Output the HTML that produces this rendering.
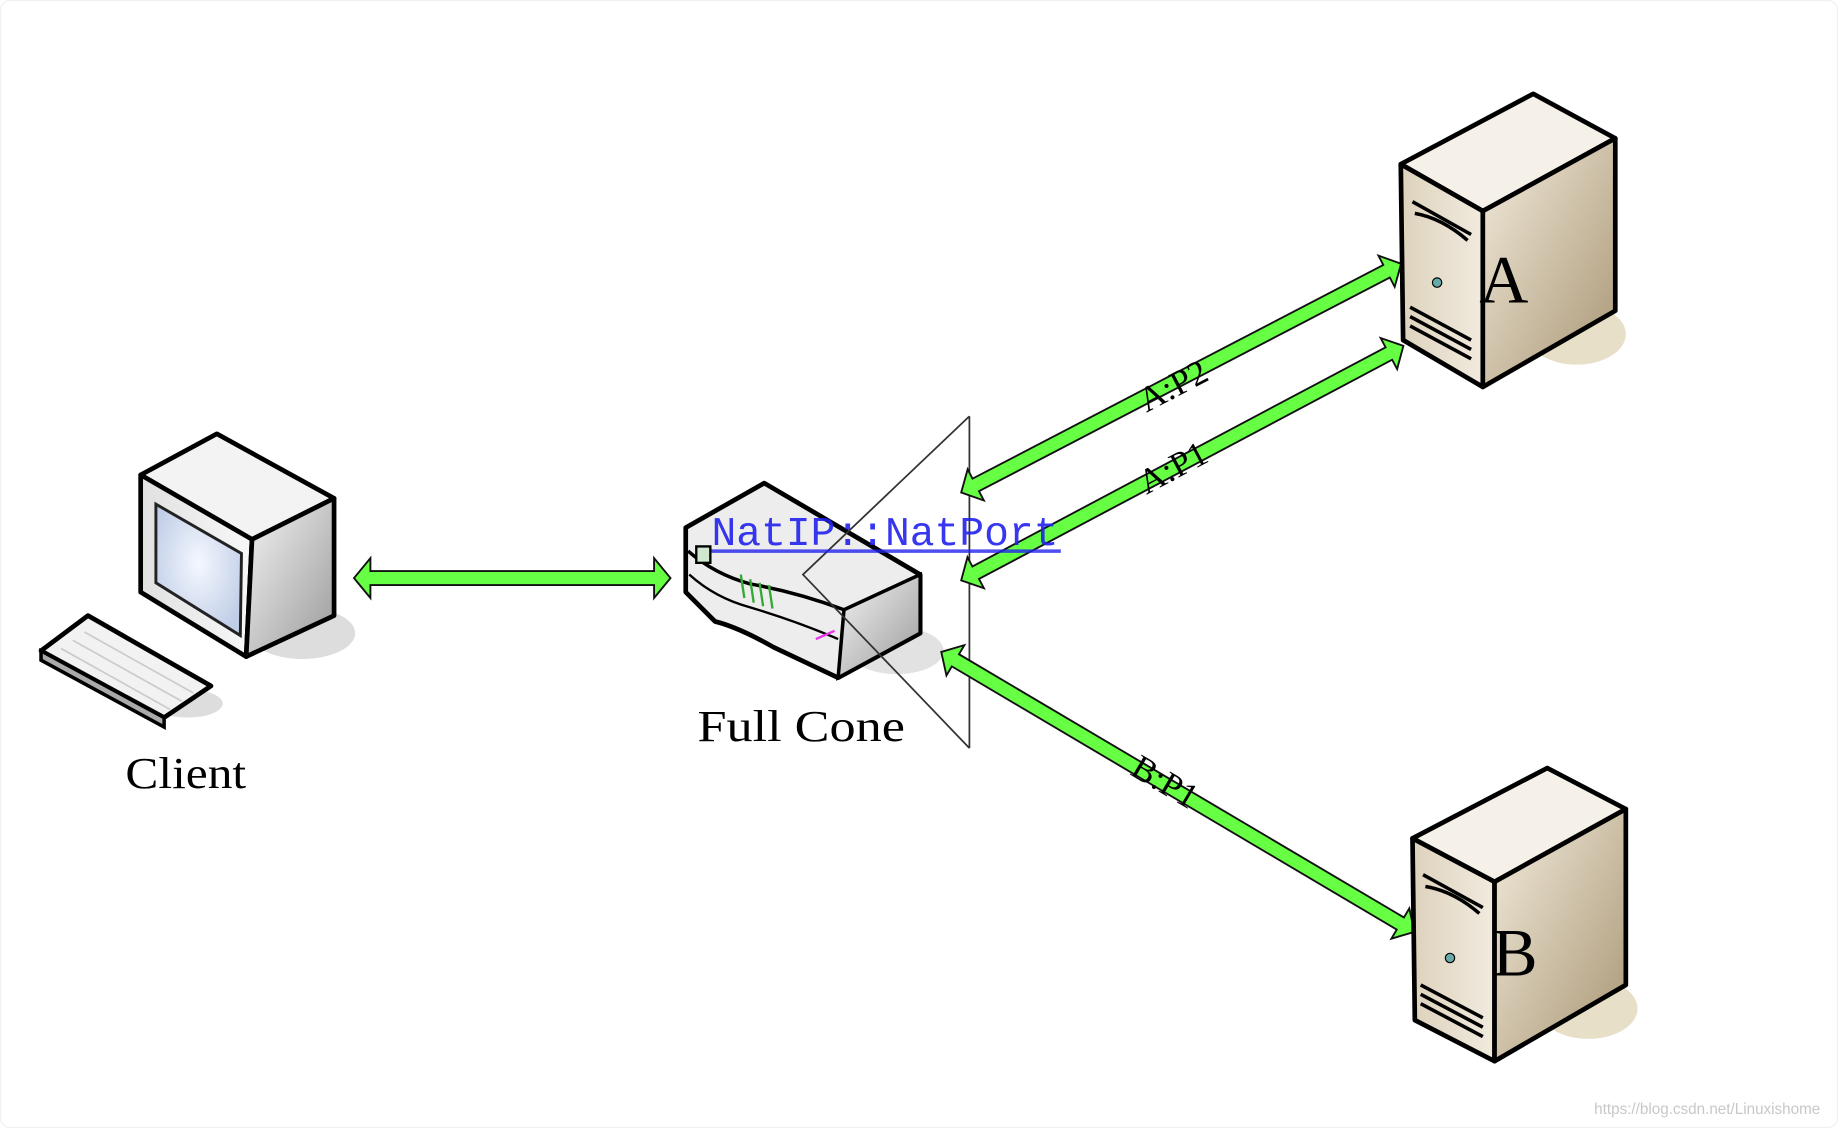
<!DOCTYPE html>
<html><head><meta charset="utf-8"><style>
html,body{margin:0;padding:0;background:#fff;width:1838px;height:1128px;overflow:hidden}
svg{display:block}
</style></head><body>
<svg width="1838" height="1128" viewBox="0 0 1568 962" preserveAspectRatio="none" xmlns="http://www.w3.org/2000/svg">
<defs>
<linearGradient id="gr" x1="0" y1="0" x2="1" y2="1"><stop offset="0" stop-color="#f4f4f4"/><stop offset="1" stop-color="#9a9a9a"/></linearGradient>
<linearGradient id="gl" x1="0" y1="0" x2="1" y2="0"><stop offset="0" stop-color="#e0e0e0"/><stop offset="1" stop-color="#f8f8f8"/></linearGradient>
<radialGradient id="scr" cx="0.5" cy="0.45" r="0.6"><stop offset="0" stop-color="#f4f8ff"/><stop offset="1" stop-color="#c0cde6"/></radialGradient>
<linearGradient id="sr" x1="0" y1="0" x2="1" y2="1"><stop offset="0" stop-color="#f3ecdc"/><stop offset="1" stop-color="#a89574"/></linearGradient>
<linearGradient id="sl" x1="0" y1="0" x2="1" y2="0"><stop offset="0" stop-color="#ddd2bc"/><stop offset="1" stop-color="#f1ebdf"/></linearGradient>
</defs>
<rect x="0.5" y="0.5" width="1567" height="961" fill="none" stroke="#f0f0f0" rx="8"/>

<!-- Client -->
<ellipse cx="258" cy="540" rx="45" ry="22" fill="#ddd"/>
<polygon points="120,405 185,370 285,425 215,460" fill="#f3f3f3" stroke="#000" stroke-width="4" stroke-linejoin="round"/>
<polygon points="120,405 215,460 210,560 120,505" fill="url(#gl)" stroke="#000" stroke-width="4" stroke-linejoin="round"/>
<polygon points="133,430 206,472 205,542 133,497" fill="url(#scr)" stroke="#222" stroke-width="2.5"/>
<polygon points="215,460 285,425 285,525 210,560" fill="url(#gr)" stroke="#000" stroke-width="4" stroke-linejoin="round"/>
<ellipse cx="160" cy="600" rx="30" ry="12" fill="#ddd"/>
<polygon points="35,555 75,525 180,585 140,612" fill="#f2f2f2" stroke="#000" stroke-width="4" stroke-linejoin="round"/>
<polygon points="35,555 140,612 140,620 35,563" fill="#aaa" stroke="#000" stroke-width="3"/>
<g stroke="#ccc" stroke-width="1.5"><line x1="52" y1="553" x2="145" y2="605"/><line x1="62" y1="546" x2="155" y2="598"/><line x1="72" y1="539" x2="165" y2="591"/></g>
<text x="107" y="672" font-family="Liberation Serif, serif" font-size="38" textLength="103" lengthAdjust="spacingAndGlyphs">Client</text>

<!-- router -->
<ellipse cx="765" cy="555" rx="40" ry="20" fill="#e2e2e2"/>
<path d="M585,450 L652,412 L785,490 L785,540 L715,578 L660,552 Q630,535 610,530 L585,505 Z" fill="#ededed" stroke="#000" stroke-width="4" stroke-linejoin="round"/>
<polygon points="720,520 785,490 785,540 715,578" fill="url(#gr)" stroke="#000" stroke-width="3"/>
<path d="M587,470 Q610,490 640,498 Q680,505 720,520" fill="none" stroke="#000" stroke-width="3"/>
<path d="M588,490 Q610,510 640,518 Q680,530 715,545" fill="none" stroke="#000" stroke-width="2"/>
<rect x="594" y="466" width="12" height="14" fill="#cfe8cf" stroke="#000" stroke-width="2"/>
<g stroke="#3a3" stroke-width="2"><line x1="632" y1="490" x2="635" y2="510"/><line x1="640" y1="494" x2="643" y2="514"/><line x1="648" y1="497" x2="651" y2="517"/><line x1="656" y1="499" x2="659" y2="519"/></g>
<line x1="696" y1="545" x2="712" y2="538" stroke="#e3e" stroke-width="2"/>
<!-- cone -->
<polyline points="827,355 685,490 827,638" fill="none" stroke="#333" stroke-width="1.5"/>
<line x1="827" y1="355" x2="827" y2="638" stroke="#333" stroke-width="1.5"/>
<text x="595" y="632" font-family="Liberation Serif, serif" font-size="38" textLength="177" lengthAdjust="spacingAndGlyphs">Full  Cone</text>

<!-- arrows -->
<g fill="#66ff44" stroke="#111" stroke-width="1.6" stroke-linejoin="miter">
<polygon transform="translate(302,493)" points="0,0 14,-17 14,-6 256,-6 256,-17 270,0 256,17 256,6 14,6 14,17"/>
<polygon transform="translate(820,420) rotate(-27.47)" points="0,0 14,-15 14,-6 409,-6 409,-15 423,0 409,15 409,6 14,6 14,15"/>
<polygon transform="translate(820,495) rotate(-27.94)" points="0,0 14,-15 14,-6 413,-6 413,-15 427,0 413,15 413,6 14,6 14,15"/>
<polygon transform="translate(803,556) rotate(30.6)" points="0,0 14,-15 14,-6 455,-6 455,-15 469,0 455,15 455,6 14,6 14,15"/>
</g>
<g font-family="Liberation Serif, serif" font-size="30" fill="#000">
<text transform="translate(978,352) rotate(-27.5)">A:P2</text>
<text transform="translate(978,422) rotate(-28)">A:P1</text>
<text transform="translate(963,660) rotate(30.6)">B:P1</text>
</g>
<text x="607" y="465" font-family="Liberation Mono, monospace" font-size="35" fill="#2222ee" textLength="296" lengthAdjust="spacingAndGlyphs" opacity="0.9">NatIP::NatPort</text>
<line x1="607" y1="470" x2="905" y2="470" stroke="#2222ee" stroke-width="3" opacity="0.8"/>

<!-- Server A -->
<ellipse cx="1345" cy="285" rx="42" ry="26" fill="#e8dfc8"/>
<polygon points="1195,140 1308,80 1378,118 1265,180" fill="#f5f1e8" stroke="#000" stroke-width="4" stroke-linejoin="round"/>
<polygon points="1195,140 1265,180 1265,330 1197,290" fill="url(#sl)" stroke="#000" stroke-width="4" stroke-linejoin="round"/>
<polygon points="1265,180 1378,118 1378,265 1265,330" fill="url(#sr)" stroke="#000" stroke-width="4" stroke-linejoin="round"/>
<g stroke="#000" stroke-width="3" fill="none"><path d="M1205,172 L1255,200"/><path d="M1207,182 Q1230,186 1252,205"/><path d="M1203,262 L1255,290"/><path d="M1203,270 L1255,298"/><path d="M1203,278 L1255,306"/></g>
<circle cx="1226" cy="241" r="4" fill="#6aa" stroke="#000"/>
<text x="1262" y="258" font-family="Liberation Serif, serif" font-size="58">A</text>

<!-- Server B -->
<ellipse cx="1355" cy="860" rx="42" ry="26" fill="#e8dfc8"/>
<polygon points="1205,715 1320,655 1387,690 1275,752" fill="#f5f1e8" stroke="#000" stroke-width="4" stroke-linejoin="round"/>
<polygon points="1205,715 1275,752 1275,905 1207,870" fill="url(#sl)" stroke="#000" stroke-width="4" stroke-linejoin="round"/>
<polygon points="1275,752 1387,690 1387,840 1275,905" fill="url(#sr)" stroke="#000" stroke-width="4" stroke-linejoin="round"/>
<g stroke="#000" stroke-width="3" fill="none"><path d="M1214,746 L1265,774"/><path d="M1216,756 Q1240,760 1262,779"/><path d="M1212,840 L1265,868"/><path d="M1212,848 L1265,876"/><path d="M1212,856 L1265,884"/></g>
<circle cx="1237" cy="817" r="4" fill="#6aa" stroke="#000"/>
<text x="1273" y="832" font-family="Liberation Serif, serif" font-size="58">B</text>

<text x="1360" y="950" font-family="Liberation Sans, sans-serif" font-size="13" fill="#c8c8c8">https://blog.csdn.net/Linuxishome</text>
</svg>
</body></html>
